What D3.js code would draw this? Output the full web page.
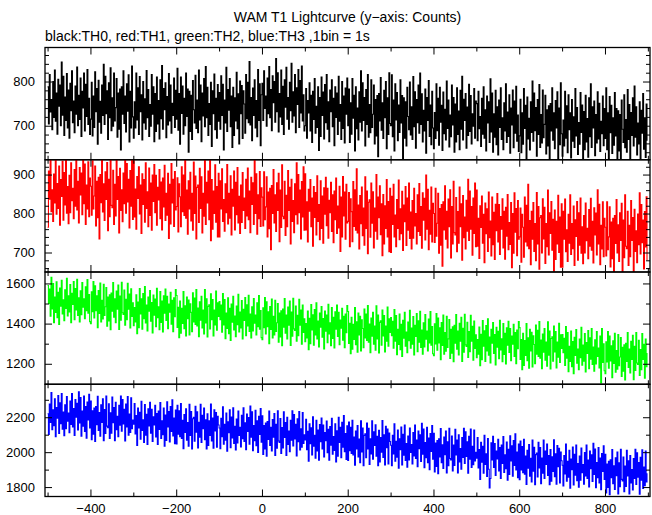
<!DOCTYPE html>
<html><head><meta charset="utf-8">
<script src="https://cdn.jsdelivr.net/npm/d3@7"></script>
<style>body{margin:0;background:#fff}svg{display:block}text{font-family:"Liberation Sans",Arial,Helvetica,sans-serif}</style>
</head><body><svg id="c" width="652" height="515"></svg>
<script>
const title = "WAM T1 Lightcurve (y\u2212axis: Counts)";
const subtitle = "black:TH0, red:TH1, green:TH2, blue:TH3 ,1bin = 1s";
// time bins: start (s) and sampled bin width (s)
const binStart = -500, binWidth = 2;

const th0 = [
788,704,816,731,759,691,800,719,826,710,774,681,805,744,792,700,844,724,812,678,765,712,818,695,781,672,796,734,824,707,756,684,790,726,833,700,769,714,808,676,778,740,819,688,794,721,827,703,762,680,
715,798,677,767,696,822,732,784,658,803,708,755,683,792,723,839,703,812,727,779,669,797,718,831,689,763,699,819,711,741,807,674,774,692,783,645,788,726,824,705,767,686,795,733,815,663,778,695,835,720,
672,754,695,819,713,786,680,811,732,770,668,800,706,761,692,825,718,782,676,748,699,816,726,788,664,773,687,810,704,757,670,804,716,836,692,784,736,797,673,766,702,818,711,792,683,751,723,808,696,780,
715,830,690,773,658,810,728,790,681,762,700,819,721,783,640,778,687,769,669,802,736,706,814,694,758,684,826,713,792,664,774,722,807,698,834,718,787,678,750,703,798,653,779,727,817,691,762,672,793,710,
775,692,813,723,794,645,758,706,832,687,782,735,807,698,767,651,787,678,763,711,821,693,772,659,801,727,791,671,779,749,683,816,716,798,707,845,702,764,666,785,723,804,695,757,675,827,712,795,655,770,
796,712,824,739,767,699,808,727,834,718,782,689,813,752,800,708,852,732,820,686,773,720,826,703,789,680,804,742,832,715,764,692,798,734,841,708,777,722,816,684,786,748,827,696,802,729,835,711,770,688,
700,784,672,757,729,797,688,769,662,778,714,807,683,744,696,788,644,764,676,810,723,776,670,793,707,816,692,754,664,781,732,804,698,762,655,788,719,774,680,812,710,748,669,800,694,767,661,785,726,808,
700,783,662,752,681,807,717,769,643,788,693,740,668,777,708,824,688,797,712,764,654,782,703,816,674,748,684,804,696,726,792,659,759,677,768,630,773,711,809,690,752,671,780,718,800,648,763,680,820,705,
700,815,675,758,643,795,713,775,666,747,685,804,706,768,625,763,672,754,654,787,721,691,799,679,743,669,811,698,777,649,759,707,792,683,819,703,772,663,735,688,783,638,764,712,802,676,747,657,778,695,
648,730,671,795,689,762,656,787,708,746,644,776,682,737,668,801,694,758,652,724,675,792,702,764,640,749,663,786,680,733,646,780,692,812,668,760,712,773,649,742,678,794,687,768,659,727,699,784,672,756,
750,666,778,693,721,653,762,681,788,672,736,643,767,706,754,662,806,686,774,640,727,674,780,657,743,634,758,696,786,669,718,646,752,688,795,662,731,676,770,638,740,702,781,650,756,683,789,665,724,642,
677,760,639,729,658,784,694,746,620,765,670,717,645,754,685,801,665,774,689,741,631,759,680,793,651,725,661,781,673,703,769,636,736,654,745,607,750,688,786,667,729,648,757,695,777,625,740,657,797,682,
631,713,654,778,672,745,639,770,691,729,627,759,665,720,651,784,677,741,635,707,658,775,685,747,623,732,646,769,663,716,629,763,675,795,651,743,695,756,632,725,661,777,670,751,642,710,682,767,655,739,
671,786,646,729,614,766,684,746,637,718,656,775,677,739,596,734,643,725,625,758,692,662,770,650,714,640,782,669,748,620,730,678,763,654,790,674,743,634,706,659,754,609,735,683,773,647,718,628,749,666];

const th1 = [
765,909,837,940,805,861,780,901,827,951,798,877,813,922,770,887,844,934,783,905,822,943,801,869,774,898,802,930,833,865,787,913,819,942,809,883,776,918,848,904,797,964,825,927,772,873,812,933,792,891,
870,796,935,812,845,922,768,883,789,893,735,900,828,941,804,876,782,907,836,931,756,888,792,953,821,815,911,772,875,794,938,836,895,750,916,808,861,779,904,825,958,801,928,830,888,763,910,819,948,785,
935,791,863,760,895,839,920,799,873,749,902,823,887,778,930,813,856,766,917,795,878,757,899,831,926,802,898,770,867,835,913,787,881,758,891,817,924,782,852,796,903,736,875,773,928,827,888,767,908,809,
818,892,753,876,843,766,920,805,899,795,953,788,860,747,884,812,906,781,852,757,932,800,896,735,867,873,777,916,813,894,750,852,793,938,772,880,827,909,784,945,730,887,760,858,800,925,778,869,740,903,
740,884,812,915,780,836,755,876,802,926,773,852,788,897,745,862,819,909,758,880,797,918,776,844,749,873,777,905,808,840,762,888,794,917,784,858,751,893,823,879,772,939,800,902,747,848,787,908,767,866,
842,768,907,784,817,894,740,855,761,865,707,872,800,913,776,848,754,879,808,903,728,860,764,925,793,787,883,744,847,766,910,808,867,722,888,780,833,751,876,797,930,773,900,802,860,735,882,791,920,757,
902,758,830,727,862,806,887,766,840,716,869,790,854,745,897,780,823,733,884,762,845,724,866,798,893,769,865,737,834,802,880,754,848,725,858,784,891,749,819,763,870,703,842,740,895,794,855,734,875,776,
780,854,715,838,805,728,882,767,861,757,915,750,822,709,846,774,868,743,814,719,894,762,858,697,829,835,739,878,775,856,712,814,755,900,734,842,789,871,746,825,692,849,722,820,762,887,740,831,702,865,
700,844,772,875,740,796,715,836,762,886,733,812,748,857,705,822,779,869,718,840,757,878,736,804,709,833,737,865,768,800,722,848,754,877,744,818,711,853,783,839,732,899,760,862,707,808,747,868,727,826,
800,726,865,742,775,852,698,813,719,823,665,830,758,871,734,806,712,837,766,861,686,818,722,883,751,745,841,702,805,724,868,766,825,680,846,738,791,709,834,755,888,731,858,760,818,693,840,749,878,715,
860,716,788,685,820,764,845,724,798,674,827,748,812,703,855,738,781,691,842,720,803,682,824,756,851,727,823,695,792,760,838,712,806,683,816,742,849,707,777,721,828,661,800,698,853,752,813,692,833,734,
740,814,675,798,765,688,842,727,821,717,875,710,782,669,806,734,828,703,774,679,854,722,818,657,789,795,699,838,735,816,672,774,715,860,694,802,749,831,706,785,652,809,682,780,722,847,700,791,662,825,
662,806,734,837,702,758,677,798,724,848,695,774,710,819,667,784,741,831,680,802,719,840,698,766,671,795,699,827,730,762,684,810,716,839,706,780,673,815,745,801,694,861,722,824,669,770,709,830,689,788,
765,691,830,707,740,817,663,778,684,788,630,795,723,836,699,771,677,802,731,826,651,783,687,848,716,710,806,667,770,689,833,731,790,645,811,703,756,674,799,720,853,696,823,725,783,658,805,714,843,680];

const th2 = [
1590,1500,1572,1437,1630,1473,1600,1405,1532,1456,1608,1430,1556,1396,1577,1487,1616,1448,1518,1415,1568,1475,1626,1438,1538,1458,1595,1404,1551,1496,1610,1420,1574,1468,1621,1441,1528,1408,1564,1444,1605,1482,1523,1424,1583,1464,1620,1452,1545,1410,
1400,1559,1459,1610,1428,1588,1464,1539,1380,1565,1451,1602,1408,1516,1423,1596,1441,1484,1580,1387,1532,1413,1544,1370,1552,1462,1605,1432,1523,1404,1562,1472,1592,1371,1537,1417,1606,1454,1446,1567,1392,1521,1420,1601,1472,1547,1378,1573,1436,1504,
1390,1480,1408,1543,1350,1507,1380,1575,1448,1524,1372,1550,1424,1584,1403,1493,1364,1532,1462,1565,1412,1505,1354,1542,1442,1522,1385,1576,1429,1484,1370,1560,1406,1512,1359,1539,1452,1572,1416,1536,1375,1498,1457,1556,1397,1516,1360,1528,1435,1570,
1540,1381,1481,1330,1512,1352,1476,1401,1560,1375,1489,1338,1532,1424,1517,1344,1499,1456,1360,1553,1408,1527,1396,1570,1388,1478,1335,1508,1417,1536,1378,1468,1348,1569,1403,1523,1334,1486,1494,1373,1548,1419,1520,1339,1468,1393,1562,1367,1504,1436,
1510,1420,1492,1357,1550,1393,1520,1325,1452,1376,1528,1350,1476,1316,1497,1407,1536,1368,1438,1335,1488,1395,1546,1358,1458,1378,1515,1324,1471,1416,1530,1340,1494,1388,1541,1361,1448,1328,1484,1364,1525,1402,1443,1344,1503,1384,1540,1372,1465,1330,
1320,1479,1379,1530,1348,1508,1384,1459,1300,1485,1371,1522,1328,1436,1343,1516,1361,1404,1500,1307,1452,1333,1464,1290,1472,1382,1525,1352,1443,1324,1482,1392,1512,1291,1457,1337,1526,1374,1366,1487,1312,1441,1340,1521,1392,1467,1298,1493,1356,1424,
1310,1400,1328,1463,1270,1427,1300,1495,1368,1444,1292,1470,1344,1504,1323,1413,1284,1452,1382,1485,1332,1425,1274,1462,1362,1442,1305,1496,1349,1404,1290,1480,1326,1432,1279,1459,1372,1492,1336,1456,1295,1418,1377,1476,1317,1436,1280,1448,1355,1490,
1460,1301,1401,1250,1432,1272,1396,1321,1480,1295,1409,1258,1452,1344,1437,1264,1419,1376,1280,1473,1328,1447,1316,1490,1308,1398,1255,1428,1337,1456,1298,1388,1268,1489,1323,1443,1254,1406,1414,1293,1468,1339,1440,1259,1388,1313,1482,1287,1424,1356,
1430,1340,1412,1277,1470,1313,1440,1245,1372,1296,1448,1270,1396,1236,1417,1327,1456,1288,1358,1255,1408,1315,1466,1278,1378,1298,1435,1244,1391,1336,1450,1260,1414,1308,1461,1281,1368,1248,1404,1284,1445,1322,1363,1264,1423,1304,1460,1292,1385,1250,
1240,1399,1299,1450,1268,1428,1304,1379,1220,1405,1291,1442,1248,1356,1263,1436,1281,1324,1420,1227,1372,1253,1384,1210,1392,1302,1445,1272,1363,1244,1402,1312,1432,1211,1377,1257,1446,1294,1286,1407,1232,1361,1260,1441,1312,1387,1218,1413,1276,1344,
1230,1320,1248,1383,1190,1347,1220,1415,1288,1364,1212,1390,1264,1424,1243,1333,1204,1372,1302,1405,1252,1345,1194,1382,1282,1362,1225,1416,1269,1324,1210,1400,1246,1352,1199,1379,1292,1412,1256,1376,1215,1338,1297,1396,1237,1356,1200,1368,1275,1410,
1380,1221,1321,1170,1352,1192,1316,1241,1400,1215,1329,1178,1372,1264,1357,1184,1339,1296,1200,1393,1248,1367,1236,1410,1228,1318,1175,1348,1257,1376,1218,1308,1188,1409,1243,1363,1174,1326,1334,1213,1388,1259,1360,1179,1308,1233,1402,1207,1344,1276,
1345,1255,1327,1192,1385,1228,1355,1160,1287,1211,1363,1185,1311,1151,1332,1242,1371,1203,1273,1170,1323,1230,1381,1193,1293,1213,1350,1159,1306,1251,1365,1175,1329,1223,1376,1196,1283,1163,1319,1199,1360,1237,1278,1179,1338,1105,1375,1207,1300,1165,
1150,1309,1209,1360,1178,1338,1214,1289,1130,1315,1201,1352,1158,1266,1173,1346,1191,1234,1330,1137,1282,1163,1294,1120,1302,1212,1355,1182,1273,1154,1312,1222,1342,1121,1287,1167,1356,1204,1196,1317,1142,1271,1170,1351,1222,1297,1128,1323,1186,1254];

const th3 = [
2220,2102,2276,2170,2342,2128,2242,2151,2306,2088,2256,2194,2324,2107,2283,2163,2336,2132,2230,2094,2272,2135,2318,2178,2224,2112,2293,2159,2336,2144,2250,2096,2301,2200,2280,2127,2346,2168,2313,2091,2235,2148,2322,2119,2261,2080,2287,2184,2332,2139,
2293,2072,2237,2103,2252,2062,2261,2158,2320,2124,2227,2092,2272,2170,2306,2066,2244,2107,2322,2149,2140,2277,2078,2226,2109,2316,2169,2255,2066,2285,2129,2206,2088,2268,2154,2322,2120,2301,2161,2245,2064,2276,2145,2318,2097,2219,2113,2312,2135,2184,
2160,2278,2104,2210,2038,2252,2138,2229,2074,2292,2124,2186,2056,2273,2097,2217,2044,2248,2150,2286,2108,2245,2062,2202,2156,2268,2087,2221,2044,2236,2130,2284,2079,2180,2100,2253,2034,2212,2067,2289,2145,2232,2058,2261,2119,2300,2093,2196,2048,2241,
2047,2268,2103,2237,2088,2278,2079,2182,2020,2216,2113,2248,2068,2170,2034,2274,2096,2233,2018,2191,2200,2063,2262,2114,2231,2024,2171,2085,2274,2055,2211,2134,2252,2072,2186,2018,2220,2039,2179,2095,2276,2064,2195,2022,2243,2121,2227,2028,2205,2156,
2138,2020,2194,2088,2260,2046,2160,2069,2224,2006,2174,2112,2242,2025,2201,2081,2254,2050,2148,2012,2190,2053,2236,2096,2142,2030,2211,2077,2254,2062,2168,2014,2219,2118,2198,2045,2264,2086,2231,2009,2153,2066,2240,2037,2179,1998,2205,2102,2250,2057,
2208,1987,2152,2018,2167,1977,2176,2073,2235,2039,2142,2007,2187,2085,2221,1981,2159,2022,2237,2064,2055,2192,1993,2141,2024,2231,2084,2170,1981,2200,2044,2121,2003,2183,2069,2237,2035,2216,2076,2160,1979,2191,2060,2233,2012,2134,2028,2227,2050,2099,
2070,2188,2014,2120,1948,2162,2048,2139,1984,2202,2034,2096,1966,2183,2007,2127,1954,2158,2060,2196,2018,2155,1972,2112,2066,2178,1997,2131,1954,2146,2040,2194,1989,2090,2010,2163,1944,2122,1977,2199,2055,2142,1968,2171,2029,2210,2003,2106,1958,2151,
1952,2173,2008,2142,1993,2183,1984,2087,1925,2121,2018,2153,1973,2075,1939,2179,2001,2138,1923,2096,2105,1968,2167,2019,2136,1929,2076,1990,2179,1960,2116,2039,2157,1977,2091,1923,2125,1944,2084,2000,2181,1969,2100,1927,2148,2026,2132,1933,2110,2061,
2040,1922,2096,1990,2162,1948,2062,1971,2126,1908,2076,2014,2144,1927,2103,1983,2156,1952,2050,1914,2092,1955,2138,1998,2044,1932,2113,1979,2156,1964,2070,1916,2121,2020,2100,1947,2166,1988,2133,1911,2055,1968,2142,1939,2081,1900,2107,2004,2152,1959,
2108,1887,2052,1918,2067,1877,2076,1973,2135,1939,2042,1907,2087,1985,2121,1881,2059,1922,2137,1964,1955,2092,1893,2041,1924,2131,1984,2070,1881,2100,1944,2021,1903,2083,1969,2137,1935,2116,1976,2060,1879,2091,1960,2133,1912,2034,1928,2127,1950,1999,
1965,2083,1909,2015,1843,2057,1943,2034,1879,2097,1929,1991,1861,2078,1902,1795,1849,2053,1955,2091,1913,2050,1867,2007,1961,2073,1892,2026,1849,2041,1935,2089,1884,1985,1905,2058,1839,2017,1872,2094,1950,2037,1863,2066,1924,2105,1898,2001,1853,2046,
1842,2063,1898,2032,1883,2073,1874,1977,1815,2011,1908,2043,1863,1965,1829,2069,1891,2028,1813,1986,1995,1858,2057,1909,2026,1819,1966,1880,2069,1850,2006,1929,2047,1867,1981,1813,2015,1834,1974,1890,2071,1859,1990,1817,2038,1916,2022,1823,2000,1951,
1925,1807,1981,1875,2047,1833,1947,1856,2011,1793,1961,1899,2029,1812,1988,1868,2041,1837,1935,1799,1977,1840,2023,1883,1929,1817,1998,1864,2041,1849,1955,1801,2006,1905,1985,1832,2051,1873,2018,1796,1940,1853,2027,1824,1966,1785,1992,1889,2037,1844,
1988,1767,1932,1798,1947,1757,1956,1853,2015,1819,1922,1787,1967,1865,2001,1761,1939,1802,2017,1844,1835,1972,1773,1921,1804,2011,1864,1950,1761,1980,1824,1901,1783,1963,1849,2017,1815,1996,1856,1940,1759,1971,1840,2013,1792,1914,1808,2007,1830,1879];

const seriesNames = ["TH0", "TH1", "TH2", "TH3"];
const seriesColors = ["#000000", "#ff0000", "#00ff00", "#0000ff"];
const xTickMajor = [-400, -200, 0, 200, 400, 600, 800];
const xTickMinor = [-500, -300, -100, 100, 300, 500, 700, 900];
const yDomains = [[623, 877], [650, 938], [1098, 1657], [1746, 2389]];
const yTickMajor = [[700, 800], [700, 800, 900], [1200, 1400, 1600], [1800, 2000, 2200]];
const yTickMinor = [
  [640, 660, 680, 720, 740, 760, 780, 820, 840, 860],
  [660, 680, 720, 740, 760, 780, 820, 840, 860, 880, 920],
  [1100, 1300, 1500],
  [1900, 2100, 2300]
];

const series = [th0, th1, th2, th3];
const svg = d3.select("#c");
const L = 45, R = 650, T = 47.5, B = 496.5;
const ph = (B - T) / 4;
const x = d3.scaleLinear().domain([-506, 905]).range([L, R]);

svg.append("text").attr("x", (L + R) / 2).attr("y", 22).attr("text-anchor", "middle")
  .attr("font-size", 14).text(title);
svg.append("text").attr("x", L).attr("y", 41).attr("font-size", 14).text(subtitle);

series.forEach((vals, k) => {
  const y0 = T + k * ph, y1 = y0 + ph;
  const y = d3.scaleLinear().domain(yDomains[k]).range([y1, y0]);
  const times = vals.map((v, i) => binStart + i * binWidth);
  const cid = "clip" + k;
  svg.append("clipPath").attr("id", cid).append("rect")
    .attr("x", L).attr("y", y0).attr("width", R - L).attr("height", ph);
  const line = d3.line().x((d, i) => x(times[i])).y(d => y(d)).curve(d3.curveStepAfter);
  svg.append("path").datum(vals).attr("clip-path", `url(#${cid})`)
    .attr("fill", "none").attr("stroke", seriesColors[k]).attr("stroke-width", 1.1)
    .attr("d", line);

  const g = svg.append("g");
  const fmt = d3.format("d");
  const addAxis = (axis, tx, ty) => {
    const a = g.append("g").attr("transform", `translate(${tx},${ty})`).call(axis);
    a.select(".domain").remove();
    a.selectAll("line").attr("stroke", "#000").attr("stroke-width", 1);
    a.attr("font-family", null).attr("font-size", 13);
    return a;
  };
  // left
  addAxis(d3.axisLeft(y).tickValues(yTickMajor[k]).tickSize(-7).tickPadding(10).tickFormat(fmt), L, 0)
    .selectAll("text").attr("fill", "#000");
  addAxis(d3.axisLeft(y).tickValues(yTickMinor[k]).tickSize(-4).tickFormat(""), L, 0);
  // right
  addAxis(d3.axisRight(y).tickValues(yTickMajor[k]).tickSize(-7).tickFormat(""), R, 0);
  addAxis(d3.axisRight(y).tickValues(yTickMinor[k]).tickSize(-4).tickFormat(""), R, 0);
  // top
  addAxis(d3.axisTop(x).tickValues(xTickMajor).tickSize(-7).tickFormat(""), 0, y0);
  addAxis(d3.axisTop(x).tickValues(xTickMinor).tickSize(-4).tickFormat(""), 0, y0);
  // bottom
  const bx = d3.axisBottom(x).tickValues(xTickMajor).tickSize(-7).tickPadding(7.5)
    .tickFormat(k < 3 ? "" : d3.format("d"));
  addAxis(bx, 0, y1).selectAll("text").attr("fill", "#000");
  addAxis(d3.axisBottom(x).tickValues(xTickMinor).tickSize(-4).tickFormat(""), 0, y1);

  svg.append("rect").attr("x", L).attr("y", y0).attr("width", R - L).attr("height", ph)
    .attr("fill", "none").attr("stroke", "#000").attr("stroke-width", 1.3);
});
</script></body></html>
